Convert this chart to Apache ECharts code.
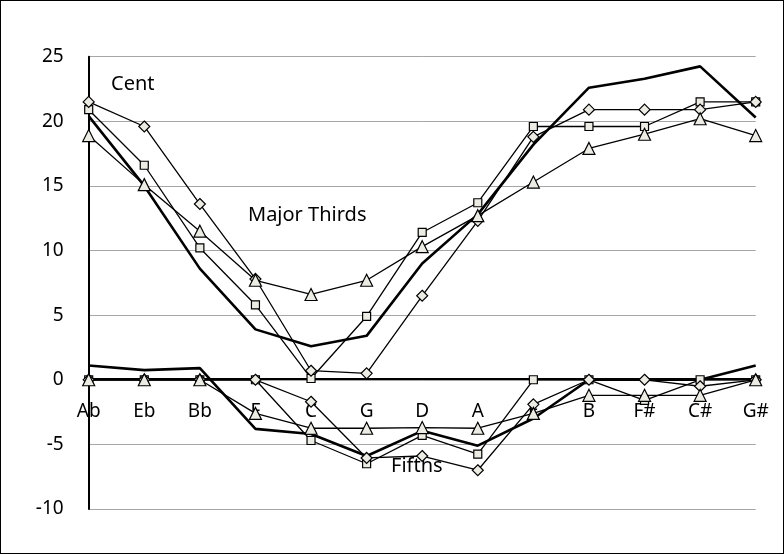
<!DOCTYPE html>
<html>
<head>
<meta charset="utf-8">
<script src="https://cdn.jsdelivr.net/npm/echarts@6/dist/echarts.min.js"></script>
<style>
html,body{margin:0;padding:0;background:#fff;}
#c{width:784px;height:554px;box-sizing:border-box;border:1px solid #000;}
</style>
</head>
<body>
<div id="c"></div>
<script>
var categories = ['Ab','Eb','Bb','F','C','G','D','A','E','B','F#','C#','G#'];
var yTicks = [-10, -5, 0, 5, 10, 15, 20, 25];

var thirdsThick    = [20.4, 15.0, 8.6, 3.9, 2.6, 3.4, 9.0, 12.8, 18.2, 22.6, 23.3, 24.25, 20.3];
var thirdsSquare   = [20.9, 16.6, 10.2, 5.8, 0.1, 4.9, 11.4, 13.7, 19.6, 19.6, 19.6, 21.5, 21.5];
var thirdsDiamond  = [21.5, 19.6, 13.6, 7.8, 0.7, 0.5, 6.5, 12.3, 18.8, 20.9, 20.9, 20.9, 21.5];
var thirdsTriangle = [18.9, 15.1, 11.5, 7.7, 6.6, 7.7, 10.3, 12.7, 15.3, 17.9, 19.0, 20.2, 18.9];

var fifthsThick    = [1.1, 0.75, 0.9, -3.8, -4.2, -5.9, -3.95, -5.1, -3.0, 0, 0, 0, 1.1];
var fifthsSquare   = [0, 0, 0, 0, -4.7, -6.5, -4.3, -5.75, 0, 0, -1.6, 0, 0];
var fifthsDiamond  = [0, 0, 0, 0, -1.7, -6.05, -5.9, -7.0, -1.9, 0, 0, -0.5, 0];
var fifthsTriangle = [0, 0, 0, -2.6, -3.75, -3.75, -3.7, -3.75, -2.6, -1.2, -1.2, -1.2, 0];

var FONT = 'Noto Sans';
var markerFill = '#ecece4';
var Y_MIN = -10, Y_MAX = 25;
var GRID_TOP = 55.7, GRID_BOTTOM = 44, H = 554;
var plotH = H - GRID_TOP - GRID_BOTTOM;
// distance from the grid bottom up to the value 0
var zeroOffset = -plotH * (0 - Y_MIN) / (Y_MAX - Y_MIN);

function thick(data) {
  return { type: 'line', data: data, symbol: 'none', z: 2,
    lineStyle: { color: '#000', width: 2.6 } };
}
function marked(data, sym, size) {
  return { type: 'line', data: data, symbol: sym, symbolSize: size, showAllSymbol: true, z: 3,
    lineStyle: { color: '#000', width: 1.3 },
    itemStyle: { color: markerFill, borderColor: '#000', borderWidth: 1.2 } };
}

var chart = echarts.init(document.getElementById('c'), null, { renderer: 'canvas' });
chart.setOption({
  animation: false,
  backgroundColor: '#fff',
  grid: { left: 87.7, right: 27.3, top: GRID_TOP, bottom: GRID_BOTTOM, containLabel: false },
  xAxis: {
    type: 'category', data: categories, boundaryGap: false,
    position: 'bottom', offset: zeroOffset,
    axisLine: { show: true, onZero: false, lineStyle: { color: '#000', width: 2 } },
    axisTick: { show: false },
    axisLabel: { interval: 0, color: '#000', fontFamily: FONT, fontSize: 19, margin: 23 },
    splitLine: { show: false }
  },
  yAxis: {
    type: 'value', min: Y_MIN, max: Y_MAX, interval: 5,
    axisLine: { show: true, lineStyle: { color: '#000', width: 2 } },
    axisTick: { show: false },
    axisLabel: { color: '#000', fontFamily: FONT, fontSize: 19, margin: 25,
      formatter: function (v) { return yTicks.indexOf(v) >= 0 ? String(v) : ''; } },
    splitLine: { show: true, lineStyle: { color: '#a6a6a6', width: 1 } }
  },
  graphic: [
    { type: 'text', left: 110, top: 73, style: { text: 'Cent', font: '20px "Noto Sans"', fill: '#000' } },
    { type: 'text', left: 247, top: 204, style: { text: 'Major Thirds', font: '20px "Noto Sans"', fill: '#000' } },
    { type: 'text', left: 390, top: 455, style: { text: 'Fifths', font: '20px "Noto Sans"', fill: '#000' } }
  ],
  series: [
    thick(thirdsThick),
    thick(fifthsThick),
    marked(thirdsSquare, 'rect', 8),
    marked(fifthsSquare, 'rect', 8),
    marked(thirdsDiamond, 'diamond', 11),
    marked(fifthsDiamond, 'diamond', 11),
    marked(thirdsTriangle, 'triangle', 12),
    marked(fifthsTriangle, 'triangle', 12)
  ]
});
</script>
</body>
</html>
